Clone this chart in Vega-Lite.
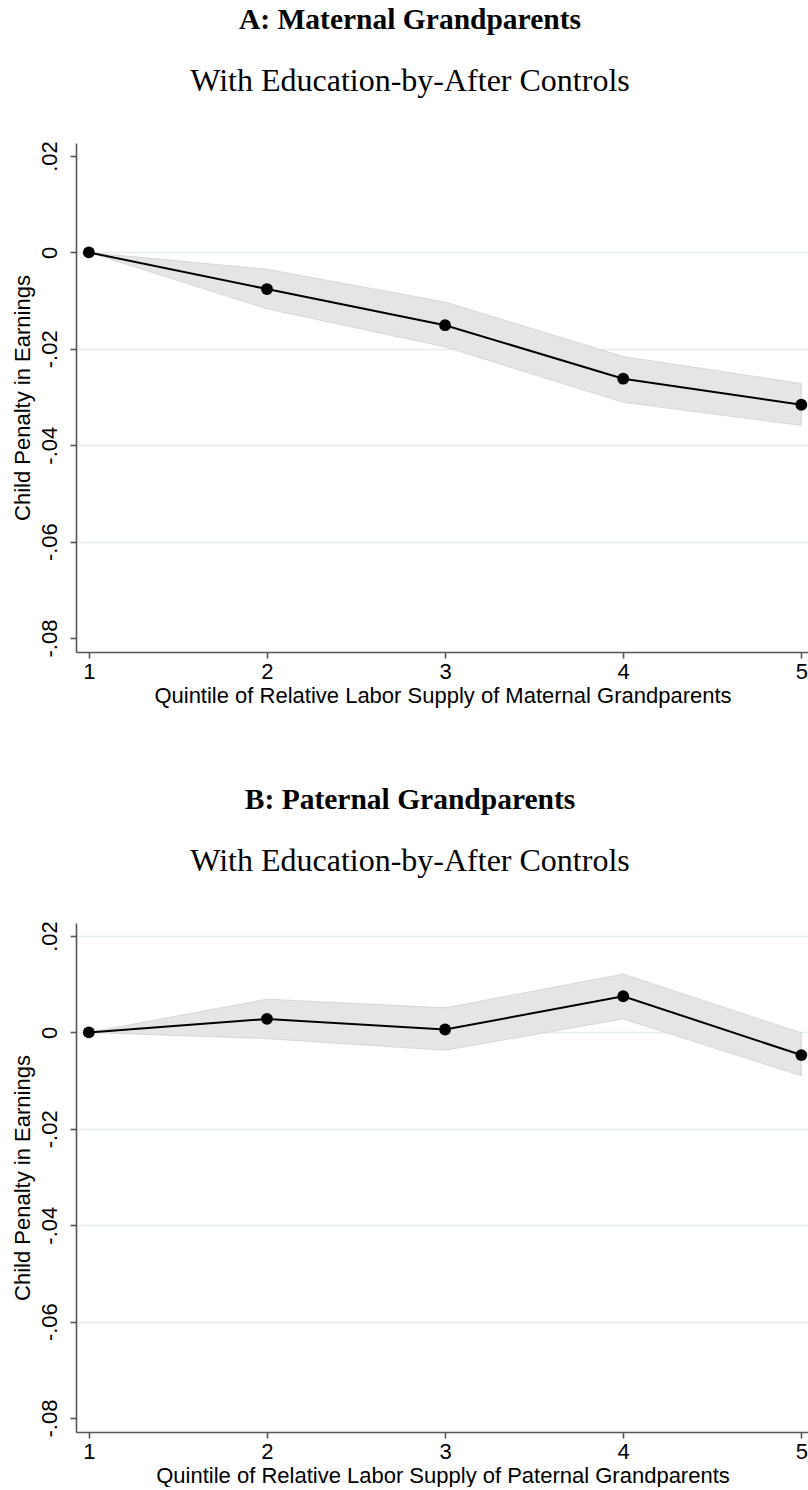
{
  "$schema": "https://vega.github.io/schema/vega-lite/v6.json",
  "background": "white",
  "padding": {"left": 10, "top": 5, "right": 0, "bottom": 0},
  "spacing": 78,
  "datasets": {
    "maternal": [
      {"q": 1, "est": 0.0, "lo": 0.0, "hi": 0.0},
      {"q": 2, "est": -0.0076, "lo": -0.0117, "hi": -0.0035},
      {"q": 3, "est": -0.0151, "lo": -0.0196, "hi": -0.0103},
      {"q": 4, "est": -0.0262, "lo": -0.0311, "hi": -0.0216},
      {"q": 5, "est": -0.0316, "lo": -0.0359, "hi": -0.0272}
    ],
    "paternal": [
      {"q": 1, "est": 0.0, "lo": 0.0, "hi": 0.0},
      {"q": 2, "est": 0.0028, "lo": -0.0013, "hi": 0.0069},
      {"q": 3, "est": 0.0006, "lo": -0.0037, "hi": 0.0051},
      {"q": 4, "est": 0.0075, "lo": 0.0028, "hi": 0.0121},
      {"q": 5, "est": -0.0047, "lo": -0.0090, "hi": -0.0001}
    ]
  },
  "config": {
    "view": {"stroke": null},
    "font": "Liberation Sans",
    "title": {
      "font": "Liberation Serif",
      "fontSize": 29.5,
      "fontWeight": "bold",
      "color": "black",
      "subtitleFont": "Liberation Serif",
      "subtitleFontSize": 32,
      "subtitleFontWeight": "normal",
      "subtitleColor": "black",
      "subtitlePadding": 30,
      "anchor": "middle",
      "frame": "bounds",
      "offset": 43
    },
    "axis": {
      "domainColor": "#555555",
      "domainWidth": 1.6,
      "tickColor": "#555555",
      "tickWidth": 1.6,
      "tickSize": 6,
      "labelFont": "Liberation Sans",
      "labelFontSize": 22,
      "labelColor": "black",
      "titleFont": "Liberation Sans",
      "titleFontSize": 22,
      "titleFontWeight": "normal",
      "titleColor": "black",
      "gridColor": "#e4edf0",
      "gridWidth": 1.3,
      "labelFlush": false,
      "labelOverlap": false
    }
  },
  "vconcat": [
    {
      "width": 733,
      "height": 509,
      "title": {"text": "A: Maternal Grandparents", "subtitle": "With Education-by-After Controls"},
      "data": {"name": "maternal"},
      "encoding": {
        "x": {
          "field": "q", "type": "quantitative",
          "scale": {"domain": [0.928, 5.043], "nice": false, "zero": false},
          "axis": {"values": [1, 2, 3, 4, 5], "format": "d", "grid": false, "title": "Quintile of Relative Labor Supply of Maternal Grandparents", "labelPadding": 3, "titlePadding": 3.5}
        }
      },
      "layer": [
        {
          "mark": {"type": "area", "color": "#e5e5e5", "stroke": "#d0d0d0", "strokeWidth": 0.8, "opacity": 1},
          "encoding": {
            "y": {
              "field": "hi", "type": "quantitative", "title": "Child Penalty in Earnings",
              "scale": {"domain": [-0.0829, 0.0227], "nice": false, "zero": false},
              "axis": {
                "values": [-0.08, -0.06, -0.04, -0.02, 0, 0.02],
                "labelExpr": "datum.value == 0 ? '0' : (datum.value < 0 ? '-' : '') + replace(format(abs(datum.value), '.2f'), '0.', '.')",
                "labelAngle": 270, "labelAlign": "center", "labelBaseline": "alphabetic", "labelPadding": 14,
                "titlePadding": 4,
                "grid": true,
                "gridOpacity": {"condition": {"test": "datum.value > 0.015 || datum.value < -0.075", "value": 0}, "value": 1}
              }
            },
            "y2": {"field": "lo"}
          }
        },
        {
          "mark": {"type": "line", "color": "black", "strokeWidth": 2},
          "encoding": {"y": {"field": "est", "type": "quantitative", "title": "Child Penalty in Earnings"}}
        },
        {
          "mark": {"type": "point", "filled": true, "color": "black", "size": 140, "opacity": 1},
          "encoding": {"y": {"field": "est", "type": "quantitative", "title": "Child Penalty in Earnings"}}
        }
      ]
    },
    {
      "width": 733,
      "height": 509,
      "title": {"text": "B: Paternal Grandparents", "subtitle": "With Education-by-After Controls"},
      "data": {"name": "paternal"},
      "encoding": {
        "x": {
          "field": "q", "type": "quantitative",
          "scale": {"domain": [0.928, 5.043], "nice": false, "zero": false},
          "axis": {"values": [1, 2, 3, 4, 5], "format": "d", "grid": false, "title": "Quintile of Relative Labor Supply of Paternal Grandparents", "labelPadding": 3, "titlePadding": 3.5}
        }
      },
      "layer": [
        {
          "mark": {"type": "area", "color": "#e5e5e5", "stroke": "#d0d0d0", "strokeWidth": 0.8, "opacity": 1},
          "encoding": {
            "y": {
              "field": "hi", "type": "quantitative", "title": "Child Penalty in Earnings",
              "scale": {"domain": [-0.0829, 0.0227], "nice": false, "zero": false},
              "axis": {
                "values": [-0.08, -0.06, -0.04, -0.02, 0, 0.02],
                "labelExpr": "datum.value == 0 ? '0' : (datum.value < 0 ? '-' : '') + replace(format(abs(datum.value), '.2f'), '0.', '.')",
                "labelAngle": 270, "labelAlign": "center", "labelBaseline": "alphabetic", "labelPadding": 14,
                "titlePadding": 4,
                "grid": true,
                "gridOpacity": {"condition": {"test": "datum.value < -0.075", "value": 0}, "value": 1}
              }
            },
            "y2": {"field": "lo"}
          }
        },
        {
          "mark": {"type": "line", "color": "black", "strokeWidth": 2},
          "encoding": {"y": {"field": "est", "type": "quantitative", "title": "Child Penalty in Earnings"}}
        },
        {
          "mark": {"type": "point", "filled": true, "color": "black", "size": 140, "opacity": 1},
          "encoding": {"y": {"field": "est", "type": "quantitative", "title": "Child Penalty in Earnings"}}
        }
      ]
    }
  ]
}
